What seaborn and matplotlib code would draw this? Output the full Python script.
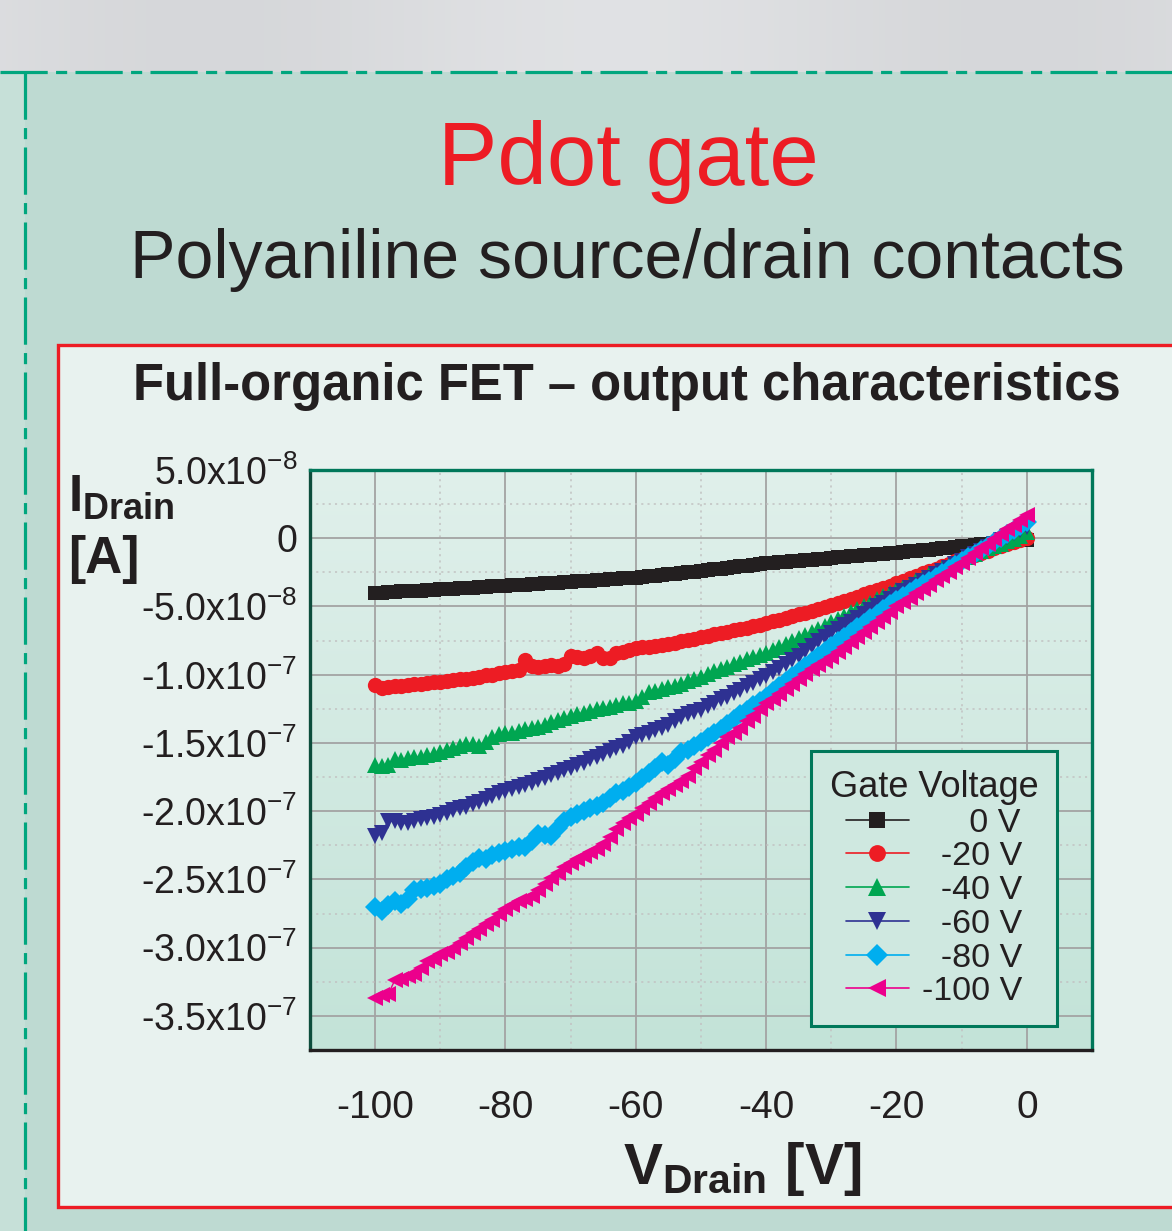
import numpy as np
import pandas as pd
import matplotlib
matplotlib.use("Agg")
import matplotlib.pyplot as plt
import seaborn as sns
from matplotlib.patches import Rectangle
from matplotlib.lines import Line2D
from matplotlib.ticker import MultipleLocator

# ---------------- data (drain current in units of 1e-8 A) ----------------
v_drain = list(range(-100, 1))

i_gate_0 = [
    -4.00, -3.98, -3.95, -3.93, -3.90, -3.88, -3.85, -3.83, -3.80, -3.78,
    -3.75, -3.72, -3.70, -3.67, -3.64, -3.62, -3.59, -3.56, -3.53, -3.51,
    -3.48, -3.45, -3.42, -3.40, -3.37, -3.34, -3.31, -3.28, -3.26, -3.23,
    -3.20, -3.17, -3.14, -3.11, -3.08, -3.04, -3.01, -2.98, -2.95, -2.92,
    -2.88, -2.84, -2.79, -2.74, -2.69, -2.64, -2.59, -2.54, -2.49, -2.45,
    -2.40, -2.35, -2.29, -2.24, -2.18, -2.13, -2.07, -2.02, -1.96, -1.91,
    -1.85, -1.81, -1.77, -1.73, -1.69, -1.65, -1.61, -1.57, -1.53, -1.49,
    -1.45, -1.41, -1.37, -1.33, -1.29, -1.25, -1.21, -1.17, -1.13, -1.09,
    -1.05, -1.01, -0.96, -0.92, -0.87, -0.83, -0.78, -0.74, -0.69, -0.65,
    -0.60, -0.55, -0.50, -0.45, -0.40, -0.35, -0.30, -0.25, -0.20, -0.15,
    -0.10]

i_gate_20 = [
    -10.75, -10.95, -10.90, -10.85, -10.80, -10.78, -10.70, -10.65, -10.62, -10.55,
    -10.50, -10.45, -10.42, -10.35, -10.30, -10.25, -10.15, -10.05, -10.00, -9.90,
    -9.80, -9.70, -9.62, -8.90, -9.35, -9.40, -9.38, -9.30, -9.35, -9.20,
    -8.65, -8.70, -8.75, -8.60, -8.40, -8.80, -8.75, -8.40, -8.30, -8.20,
    -8.05, -8.00, -7.95, -7.90, -7.80, -7.75, -7.65, -7.55, -7.45, -7.35,
    -7.25, -7.15, -7.05, -6.95, -6.85, -6.75, -6.65, -6.55, -6.45, -6.35,
    -6.22, -6.10, -5.97, -5.84, -5.72, -5.58, -5.45, -5.31, -5.17, -5.04,
    -4.90, -4.75, -4.60, -4.45, -4.28, -4.12, -3.96, -3.80, -3.64, -3.47,
    -3.30, -3.12, -2.94, -2.76, -2.58, -2.40, -2.22, -2.04, -1.86, -1.68,
    -1.50, -1.35, -1.20, -1.05, -0.90, -0.75, -0.60, -0.45, -0.30, -0.15,
    0.05]

i_gate_40 = [
    -16.60, -16.70, -16.65, -16.20, -16.25, -16.10, -16.00, -16.05, -15.85, -15.80,
    -15.70, -15.55, -15.40, -15.25, -15.05, -15.10, -15.20, -14.90, -14.60, -14.35,
    -14.30, -14.25, -14.10, -13.95, -13.90, -13.80, -13.65, -13.50, -13.35, -13.20,
    -13.05, -12.90, -12.80, -12.65, -12.50, -12.45, -12.35, -12.20, -12.10, -12.05,
    -11.90, -11.60, -11.30, -11.20, -11.05, -10.90, -10.80, -10.65, -10.45, -10.30,
    -10.15, -9.95, -9.75, -9.55, -9.40, -9.25, -9.05, -8.85, -8.70, -8.55,
    -8.40, -8.18, -7.96, -7.74, -7.52, -7.30, -7.08, -6.86, -6.64, -6.42,
    -6.15, -5.92, -5.68, -5.44, -5.20, -4.96, -4.72, -4.48, -4.24, -4.00,
    -3.78, -3.55, -3.32, -3.08, -2.85, -2.62, -2.40, -2.18, -1.96, -1.76,
    -1.55, -1.35, -1.15, -0.95, -0.75, -0.57, -0.39, -0.21, -0.03, 0.15,
    0.45]

i_gate_60 = [
    -21.80, -21.60, -20.70, -20.75, -20.90, -20.85, -20.70, -20.60, -20.50, -20.40,
    -20.25, -20.10, -19.95, -19.80, -19.70, -19.50, -19.30, -19.10, -18.90, -18.70,
    -18.50, -18.35, -18.20, -18.05, -17.90, -17.70, -17.55, -17.35, -17.20, -17.00,
    -16.80, -16.65, -16.45, -16.20, -16.00, -15.80, -15.60, -15.40, -15.20, -14.90,
    -14.60, -14.40, -14.25, -14.05, -13.90, -13.65, -13.40, -13.10, -12.85, -12.70,
    -12.55, -12.30, -12.05, -11.80, -11.60, -11.35, -11.10, -10.85, -10.60, -10.35,
    -10.10, -9.80, -9.50, -9.20, -8.90, -8.60, -8.25, -7.90, -7.55, -7.25,
    -6.95, -6.67, -6.39, -6.11, -5.83, -5.55, -5.27, -4.99, -4.71, -4.43,
    -4.15, -3.90, -3.65, -3.40, -3.15, -2.90, -2.65, -2.40, -2.15, -1.90,
    -1.65, -1.40, -1.15, -0.90, -0.65, -0.40, -0.15, 0.10, 0.35, 0.60,
    0.85]

i_gate_80 = [
    -27.05, -27.30, -26.90, -26.60, -26.80, -26.40, -25.80, -25.70, -25.60, -25.50,
    -25.30, -25.00, -24.75, -24.50, -24.10, -23.70, -23.40, -23.50, -23.20, -23.05,
    -22.90, -22.75, -22.65, -22.60, -22.15, -21.70, -21.75, -21.80, -21.20, -20.70,
    -20.40, -20.20, -20.00, -19.80, -19.60, -19.40, -19.00, -18.70, -18.50, -18.20,
    -17.90, -17.60, -17.20, -16.80, -16.40, -16.60, -16.20, -15.70, -15.50, -15.20,
    -14.95, -14.60, -14.30, -14.00, -13.60, -13.25, -12.90, -12.55, -12.20, -11.90,
    -11.60, -11.23, -10.86, -10.49, -10.12, -9.75, -9.38, -9.01, -8.64, -8.27,
    -7.90, -7.56, -7.22, -6.88, -6.54, -6.20, -5.86, -5.52, -5.18, -4.84,
    -4.50, -4.22, -3.94, -3.66, -3.38, -3.10, -2.82, -2.54, -2.26, -1.98,
    -1.70, -1.41, -1.12, -0.83, -0.54, -0.25, 0.04, 0.33, 0.62, 0.91,
    1.20]

i_gate_100 = [
    -33.70, -33.50, -33.40, -32.40, -32.30, -32.10, -31.90, -31.50, -31.00, -30.80,
    -30.50, -30.30, -30.00, -29.65, -29.30, -28.95, -28.60, -28.30, -28.00, -27.55,
    -27.20, -26.90, -26.60, -26.40, -26.20, -25.80, -25.30, -24.90, -24.50, -24.10,
    -23.80, -23.50, -23.30, -23.00, -22.80, -22.40, -21.90, -21.30, -20.90, -20.50,
    -20.20, -19.80, -19.40, -19.00, -18.70, -18.40, -18.10, -17.80, -17.40, -16.80,
    -16.40, -15.90, -15.50, -15.00, -14.60, -14.30, -13.90, -13.40, -13.00, -12.50,
    -12.10, -11.75, -11.40, -11.05, -10.70, -10.30, -9.95, -9.60, -9.30, -9.00,
    -8.70, -8.33, -7.96, -7.59, -7.22, -6.85, -6.48, -6.11, -5.74, -5.37,
    -5.00, -4.68, -4.36, -4.04, -3.72, -3.40, -3.08, -2.76, -2.44, -2.12,
    -1.80, -1.45, -1.10, -0.75, -0.40, -0.05, 0.30, 0.65, 1.00, 1.35,
    1.70]

gate_labels = ["0 V", "-20 V", "-40 V", "-60 V", "-80 V", "-100 V"]
# figure-space padding keeps the legend labels right-aligned
gate_label_padded = ["\u2007\u2007 0 V", "\u2007-20 V", "\u2007-40 V",
                     "\u2007-60 V", "\u2007-80 V", "-100 V"]
series = [i_gate_0, i_gate_20, i_gate_40, i_gate_60, i_gate_80, i_gate_100]

y_ticks = [5e-8, 0, -5e-8, -1e-7, -1.5e-7, -2e-7, -2.5e-7, -3e-7, -3.5e-7]
y_tick_labels = ["5.0x10$^{-8}$", "0", "-5.0x10$^{-8}$", "-1.0x10$^{-7}$",
                 "-1.5x10$^{-7}$", "-2.0x10$^{-7}$", "-2.5x10$^{-7}$",
                 "-3.0x10$^{-7}$", "-3.5x10$^{-7}$"]
x_ticks = [-100, -80, -60, -40, -20, 0]
x_tick_labels = ["-100", "-80", "-60", "-40", "-20", "0"]

# ---------------- styles ----------------
colors = ["#231f20", "#ed1c24", "#00a651", "#2e3192", "#00aeef", "#ec008c"]
markers = ["s", "o", "^", "v", "D", "<"]
msizes = [10, 11, 12, 12, 10, 12]

sns.set_theme(style="white")
plt.rcParams["font.family"] = ["Liberation Sans", "DejaVu Sans"]
plt.rcParams["mathtext.fontset"] = "custom"
plt.rcParams["mathtext.rm"] = "Liberation Sans"
plt.rcParams["mathtext.bf"] = "Liberation Sans:bold"
plt.rcParams["mathtext.it"] = "Liberation Sans:italic"
plt.rcParams["mathtext.default"] = "regular"
plt.rcParams["lines.scale_dashes"] = False
plt.rcParams["text.color"] = "#231f20"

W, H = 1172, 1231
fig = plt.figure(figsize=(W / 100, H / 100), dpi=100)

# background layer in pixel coordinates
bg = fig.add_axes([0, 0, 1, 1], zorder=-5)
bg.set_xlim(0, W)
bg.set_ylim(H, 0)
bg.axis("off")
gray = np.linspace(0, 1, 200)[None, :]
bg.imshow(np.dstack([0.86 - 0.02 * np.sin(gray * 9),
                     0.865 - 0.02 * np.sin(gray * 9),
                     0.875 - 0.02 * np.sin(gray * 9)]),
          extent=(0, W, 72, 0), aspect="auto", zorder=0)
bg.add_patch(Rectangle((0, 72), W, H - 72, facecolor="#bedad2", edgecolor="none", zorder=0))
bg.add_patch(Rectangle((0, 72), 25, H - 72, facecolor="#c6e0d8", edgecolor="none", zorder=0.5))
dash = (34, 6, 8, 6)
bg.add_line(Line2D([0, W], [72, 72], color="#00a67e", lw=2.3, dashes=dash, zorder=2))
bg.add_line(Line2D([25, 25], [72, H], color="#00a67e", lw=2.3, dashes=dash, zorder=2))
bg.add_patch(Rectangle((58, 345), W + 20 - 58, 1207 - 345, facecolor="#e8f2ef",
                       edgecolor="#ed1c24", lw=2.4, zorder=1))
grad = np.linspace(0, 1, 256)[:, None]
top_c = np.array([0xe0, 0xf0, 0xeb]) / 255
bot_c = np.array([0xc3, 0xe3, 0xd8]) / 255
bg.imshow(top_c[None, None, :] * (1 - grad[:, :, None]) + bot_c[None, None, :] * grad[:, :, None],
          extent=(310, 1092, 1050, 470), aspect="auto", zorder=3)
bg.set_xlim(0, W)
bg.set_ylim(H, 0)

# titles
fig.text(628 / W, 1 - 185 / H, "Pdot gate", color="#ed1c24", fontsize=64,
         ha="center", va="baseline")
fig.text(627 / W, 1 - 278 / H, "Polyaniline source/drain contacts", color="#231f20",
         fontsize=49, ha="center", va="baseline")
fig.text(627 / W, 1 - 400 / H, "Full-organic FET \u2013 output characteristics",
         color="#231f20", fontsize=36.5, fontweight="bold", ha="center", va="baseline")

# ---------------- main chart ----------------
ax = fig.add_axes([310 / W, 1 - 1050 / H, 782 / W, 580 / H])
ax.set_facecolor("none")

for vals, lab, c, m, ms in zip(series, gate_label_padded, colors, markers, msizes):
    sns.lineplot(x=v_drain, y=np.array(vals) * 1e-8, ax=ax, color=c, marker=m,
                 markersize=ms, markeredgewidth=0, linewidth=1, label=lab,
                 errorbar=None, legend=False, zorder=3)

ax.set_xlim(-110, 10)
ax.set_ylim(-3.75e-7, 5e-8)
ax.set_xticks(x_ticks, labels=x_tick_labels)
ax.set_yticks(y_ticks, labels=y_tick_labels)
ax.xaxis.set_minor_locator(MultipleLocator(10))
ax.yaxis.set_minor_locator(MultipleLocator(2.5e-8))

ax.set_axisbelow(True)
ax.grid(which="major", color="#a3a3a3", lw=1.3, ls="-")
ax.grid(which="minor", color="#c2c2c2", lw=1.1, ls=(0, (1.5, 3)))

ax.tick_params(axis="x", which="major", direction="out", length=9, width=1.6,
               color="#231f20", labelsize=28, pad=20, labelcolor="#231f20")
ax.tick_params(axis="x", which="minor", direction="out", length=5, width=1.6,
               color="#231f20")
ax.tick_params(axis="y", which="both", direction="out", length=8, width=1.6,
               color="#231f20", labelsize=27, pad=1, labelcolor="#231f20")

for side in ["top", "right"]:
    ax.spines[side].set_color("#00785a")
    ax.spines[side].set_linewidth(2.4)
ax.spines["left"].set_color("#0d4d3c")
ax.spines["left"].set_linewidth(2.4)
ax.spines["bottom"].set_color("#231f20")
ax.spines["bottom"].set_linewidth(2.4)

ax.set_xlabel(r"V$_{\mathbf{Drain}}$ [V]", fontsize=42, fontweight="bold", color="#231f20")
ax.xaxis.set_label_coords((742 - 310) / 782, -0.155)
ax.set_ylabel(r"I$_{\mathbf{Drain}}$" + "\n[A]", fontsize=37, fontweight="bold",
              rotation=0, ha="left", va="top", multialignment="left",
              color="#231f20", linespacing=1.35)
ax.yaxis.set_label_coords((68 - 310) / 782, 0.995)

handles = ax.get_lines()[:6]
leg = ax.legend(handles=handles, labels=gate_label_padded, title="Gate Voltage",
                loc="lower right", bbox_to_anchor=((1057 - 310) / 782, (1050 - 1026) / 580),
                fontsize=24.5, title_fontsize=26, frameon=True, fancybox=False,
                handlelength=1.85, handletextpad=0.4, labelspacing=0.08,
                borderpad=0.55, borderaxespad=0, markerscale=1.1,
                alignment="center")
leg.get_frame().set_edgecolor("#00785a")
leg.get_frame().set_linewidth(2.2)
leg.get_frame().set_facecolor("#cfe8e0")
leg.get_frame().set_alpha(1)
for ln in leg.get_lines():
    ln.set_linewidth(1.2)

fig.savefig("out.png", dpi=100)
